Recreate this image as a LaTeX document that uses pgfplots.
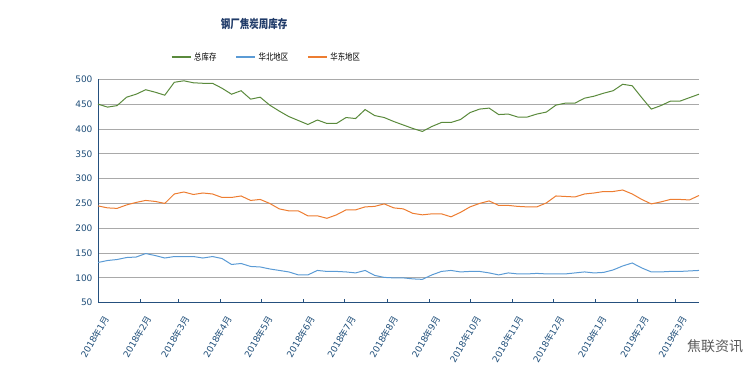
\documentclass[border=0pt]{standalone}
\usepackage{fontspec}
\setmainfont{DejaVu Sans}
\newfontfamily\cjk{Noto Sans CJK SC}
\usepackage{graphicx}
\usepackage{pgfplots}
\usepackage{pgfplotstable}
\pgfplotsset{compat=1.18}
\definecolor{cgreen}{HTML}{5A8A3C}
\definecolor{cblue}{HTML}{5B9BD5}
\definecolor{corange}{HTML}{ED7D31}
\definecolor{ctitle}{HTML}{1F3A68}
\definecolor{ctick}{HTML}{1F4E79}
\definecolor{caxis}{HTML}{25507E}
\definecolor{cgrid}{HTML}{A9A9A9}
\newcommand\ym[2]{#1{\cjk 年}#2{\cjk 月}}
\newcommand\tall[1]{\scalebox{1}[1.25]{#1}}
\pgfplotstableread{
d tot hb hd
0 450 131 245
7 444 135 241
14 447 137 240
21 464 141 247
28 470 142 252
35 479 149 256
42 474 145 254
49 468 140 250
56 494 143 269
63 497 143 273
70 493 143 268
77 492 140 271
84 492 143 269
91 482 139 262
98 470 127 262
105 477 129 265
112 460 123 256
119 464 122 258
126 448 118 250
133 436 115 239
140 425 112 235
147 417 106 235
154 409 106 225
161 418 115 225
168 411 113 220
175 411 113 227
182 423 112 237
189 421 110 237
196 439 115 243
203 427 105 244
210 423 101 249
217 415 100 241
224 408 100 239
231 401 98 230
238 395 97 227
245 405 106 229
252 413 113 229
259 413 115 223
266 419 112 232
273 433 113 243
280 440 113 250
287 442 110 255
294 429 106 246
301 430 110 246
308 424 108 244
315 424 108 243
322 430 109 243
329 434 108 251
336 448 108 265
343 452 108 264
350 452 110 263
357 462 112 269
364 466 110 271
371 472 111 274
378 477 116 274
385 490 124 277
392 487 130 269
399 463 120 258
406 440 112 249
413 447 112 253
420 456 113 258
427 456 113 258
434 463 114 257
441 470 115 266
}\datatable
\begin{document}
\begin{tikzpicture}
\useasboundingbox (-98pt,-75.3pt) rectangle (657pt,302.7pt);
\begin{axis}[
  at={(0pt,0pt)}, anchor=south west,
  scale only axis, width=601pt, height=223.4pt,
  xmin=0, xmax=441, ymin=50, ymax=500,
  axis x line=bottom, axis y line=left,
  axis line style={-, draw=caxis, line width=0.8pt},
  ytick={50,100,...,500},
  ymajorgrids, grid style={draw=cgrid, line width=0.8pt},
  ytick style={draw=none},
  xtick={0,31,59,90,120,151,181,212,243,273,304,334,365,396,424},
  xticklabels={\ym{2018}{1},\ym{2018}{2},\ym{2018}{3},\ym{2018}{4},\ym{2018}{5},\ym{2018}{6},\ym{2018}{7},\ym{2018}{8},\ym{2018}{9},\ym{2018}{10},\ym{2018}{11},\ym{2018}{12},\ym{2019}{1},\ym{2019}{2},\ym{2019}{3}},
  xtick style={draw=caxis, line width=0.8pt},
  tick align=inside, major tick length=4pt,
  tick label style={font=\fontsize{9}{10}\selectfont, text=ctick},
  /pgf/number format/assume math mode=true,
  yticklabel style={xshift=-2pt},
  xticklabel style={xshift=9pt, yshift=-13pt, rotate=60, anchor=east, inner sep=1pt},
  legend columns=3,
  legend style={at={(0.1215,1.0998)}, anchor=west, draw=none, fill=none,
    inner sep=0pt, outer sep=0pt, font=\cjk\fontsize{7.4}{8}\selectfont,
    nodes={inner sep=0pt},
    /tikz/every odd column/.append style={column sep=3pt},
    /tikz/every even column/.append style={column sep=19pt}},
  legend image code/.code={\draw[#1, line width=1.2pt] (0pt,0pt) -- (19pt,0pt);},
  clip=false,
]
\addplot[cgreen, line width=1pt] table[x=d, y=tot] {\datatable};
\addlegendentry{\tall{总库存}}
\addplot[cblue, line width=1pt] table[x=d, y=hb] {\datatable};
\addlegendentry{\tall{华北地区}}
\addplot[corange, line width=1pt] table[x=d, y=hd] {\datatable};
\addlegendentry{\tall{华东地区}}
\end{axis}
\node[font=\cjk\bfseries\fontsize{9.5}{11}\selectfont, text=ctitle] at (156pt,278.7pt) {\tall{钢厂焦炭周库存}};
\node[font=\cjk\fontsize{14}{16}\selectfont, text=black!65] at (617pt,-44pt) {焦联资讯};
\end{tikzpicture}
\end{document}
